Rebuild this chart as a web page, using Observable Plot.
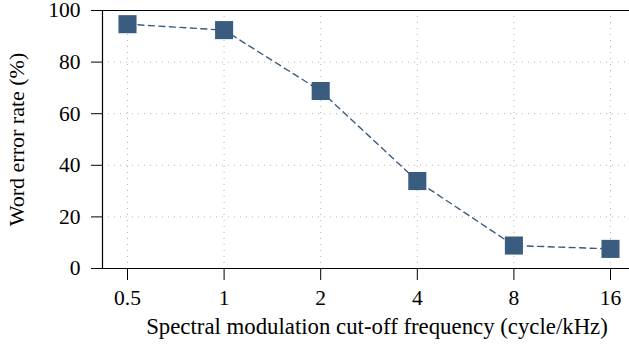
<!DOCTYPE html>
<html>
<head>
<meta charset="utf-8">
<script src="https://cdn.jsdelivr.net/npm/d3@7"></script>
<script src="https://cdn.jsdelivr.net/npm/@observablehq/plot@0.6"></script>
<style>
  html, body { margin: 0; padding: 0; background: #fff; }
  svg { display: block; }
</style>
</head>
<body>
<div id="chart"></div>
<script>
const cutoff = [0.5, 1, 2, 4, 8, 16];
const wer = [94.7, 92.4, 68.8, 33.9, 8.9, 7.6];
const xTicks = [0.5, 1, 2, 4, 8, 16];
const yTicks = [0, 20, 40, 60, 80, 100];
const xLabel = "Spectral modulation cut-off frequency (cycle/kHz)";
const yLabel = "Word error rate (%)";

const data = cutoff.map((c, i) => ({c, w: wer[i]}));
const color = "#3a5d7f";

const chart = Plot.plot({
  width: 629,
  height: 347,
  marginLeft: 102,
  marginRight: 0,
  marginTop: 10,
  marginBottom: 79,
  style: {fontFamily: "'Liberation Serif', 'Times New Roman', serif", fontSize: "21px", color: "#000", background: "#fff", overflow: "visible"},
  x: {type: "log", base: 2, domain: [0.5, 16], insetLeft: 25, insetRight: 19},
  y: {domain: [0, 100]},
  marks: [
    Plot.gridX(xTicks, {stroke: "#b5b5b5", strokeOpacity: 1, strokeDasharray: "1,5", strokeWidth: 1}),
    Plot.gridY(yTicks.filter(d => d > 0 && d < 100), {stroke: "#b5b5b5", strokeOpacity: 1, strokeDasharray: "1,5", strokeWidth: 1}),
    Plot.axisX(xTicks, {tickSize: 12, tickPadding: 9, tickFormat: d => String(d), label: null, fontSize: 21.5}),
    Plot.axisY(yTicks, {tickSize: 11, tickPadding: 11, label: null, fontSize: 21.5}),
    Plot.ruleY([0, 100], {stroke: "#000", strokeWidth: 1.2}),
    Plot.frame({anchor: "left", stroke: "#000", strokeWidth: 1.2}),
    Plot.line(data, {x: "c", y: "w", stroke: color, strokeWidth: 1.4, strokeDasharray: "6,4.5"}),
    Plot.dot(data, {x: "c", y: "w", symbol: "square", r: 10.2, fill: color, stroke: "none"}),
    Plot.text([xLabel], {frameAnchor: "bottom", dx: 11, dy: 65, fontSize: 22.8, fill: "#000"}),
    Plot.text([yLabel], {frameAnchor: "left", dx: -86, rotate: -90, textAnchor: "middle", fontSize: 22, fill: "#000"})
  ]
});
document.getElementById("chart").appendChild(chart);
</script>
</body>
</html>
